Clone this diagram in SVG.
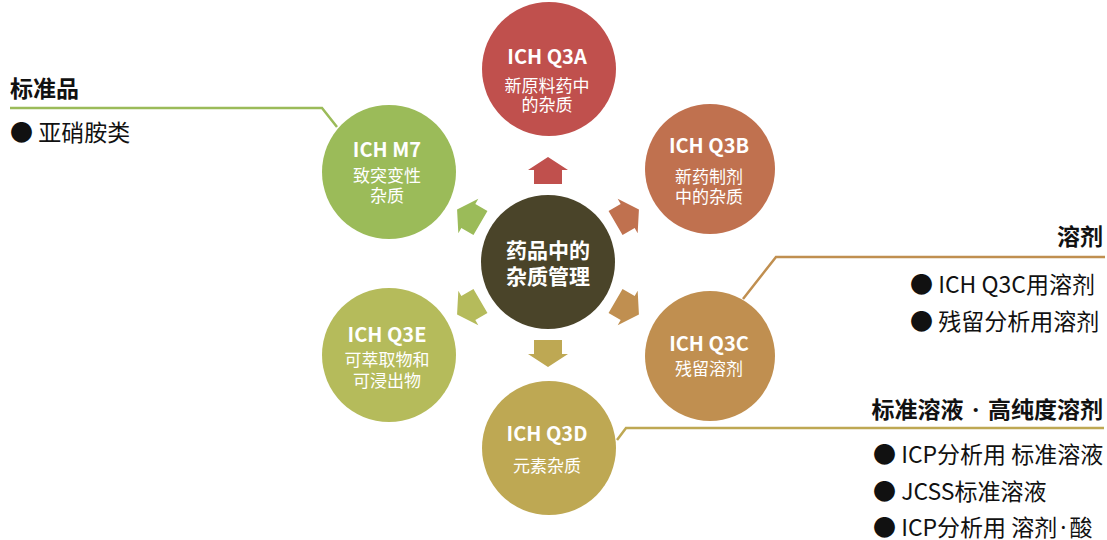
<svg xmlns="http://www.w3.org/2000/svg" width="1107" height="540" viewBox="0 0 1107 540">
<style>
  text { font-family: "Noto Sans CJK SC", "Noto Sans", sans-serif; }
  .t { fill: #ffffff; text-anchor: middle; }
  .h { font-size: 20px; font-weight: 700; }
  .s { font-size: 17px; font-weight: 400; }
  .c { font-size: 21px; font-weight: 700; }
  .title { font-size: 23px; font-weight: 700; fill: #111111; }
  .item { font-size: 23px; font-weight: 400; fill: #111111; }
  .dot { font-family: "Noto Sans", "DejaVu Sans", sans-serif; }
  .lead { fill: none; stroke-width: 2.5; stroke-linejoin: miter; }
</style>
<defs>
  <path id="arr" d="M0,-105 L20,-92 L14,-92 L14,-78 L-14,-78 L-14,-92 L-20,-92 Z"/>
</defs>
<rect width="1107" height="540" fill="#ffffff"/>

<g id="connectors">
  <use href="#arr" transform="translate(548,262) rotate(0)" fill="#c0504d"/>
  <use href="#arr" transform="translate(548,262) rotate(60)" fill="#c0714f"/>
  <use href="#arr" transform="translate(548,262) rotate(120)" fill="#c08f50"/>
  <use href="#arr" transform="translate(548,262) rotate(180)" fill="#bea853"/>
  <use href="#arr" transform="translate(548,262) rotate(240)" fill="#b5bb5b"/>
  <use href="#arr" transform="translate(548,262) rotate(300)" fill="#9bbb59"/>
  <polyline class="lead" stroke="#9bbb59" points="10,108 322,108 337,127"/>
  <polyline class="lead" stroke="#c08f50" points="743,299 776,257 1105,257"/>
  <polyline class="lead" stroke="#bea853" points="617,440 626,428 1104,428"/>
</g>

<g id="center">
  <circle cx="548" cy="262" r="67" fill="#4a4429"/>
  <text class="t c" x="548" y="258">药品中的</text>
  <text class="t c" x="548" y="284">杂质管理</text>
</g>

<g id="q3a">
  <circle cx="549" cy="69" r="67" fill="#c0504d"/>
  <text class="t h" x="547" y="64">ICH Q3A</text>
  <text class="t s" x="547" y="92">新原料药中</text>
  <text class="t s" x="547" y="111">的杂质</text>
</g>

<g id="q3b">
  <circle cx="710" cy="169" r="65" fill="#c0714f"/>
  <text class="t h" x="709" y="153">ICH Q3B</text>
  <text class="t s" x="709" y="183">新药制剂</text>
  <text class="t s" x="709" y="203">中的杂质</text>
</g>

<g id="q3c">
  <circle cx="710" cy="356" r="65" fill="#c08f50"/>
  <text class="t h" x="709" y="351">ICH Q3C</text>
  <text class="t s" x="709" y="375">残留溶剂</text>
</g>

<g id="q3d">
  <circle cx="549" cy="448" r="67" fill="#bea853"/>
  <text class="t h" x="547" y="441">ICH Q3D</text>
  <text class="t s" x="547" y="472">元素杂质</text>
</g>

<g id="q3e">
  <circle cx="389" cy="355" r="67" fill="#b5bb5b"/>
  <text class="t h" x="387" y="342">ICH Q3E</text>
  <text class="t s" x="387" y="366">可萃取物和</text>
  <text class="t s" x="387" y="387">可浸出物</text>
</g>

<g id="m7">
  <circle cx="389" cy="172" r="67" fill="#9bbb59"/>
  <text class="t h" x="387" y="157">ICH M7</text>
  <text class="t s" x="387" y="182">致突变性</text>
  <text class="t s" x="387" y="202">杂质</text>
</g>

<g id="label-standard">
  <text class="title" x="10" y="97">标准品</text>
  <text class="item" x="10" y="141">● 亚硝胺类</text>
</g>

<g id="label-solvent">
  <text class="title" x="1103" y="245" text-anchor="end">溶剂</text>
  <text class="item" x="910" y="293">● ICH Q3C用溶剂</text>
  <text class="item" x="910" y="330">● 残留分析用溶剂</text>
</g>

<g id="label-solution">
  <text class="title" x="1103" y="418" text-anchor="end">标准溶液<tspan class="dot" dx="3"> · </tspan><tspan dx="3">高纯度溶剂</tspan></text>
  <text class="item" x="873" y="463">● ICP分析用 标准溶液</text>
  <text class="item" x="873" y="500">● JCSS标准溶液</text>
  <text class="item" x="873" y="536">● ICP分析用 溶剂<tspan class="dot" dx="3">·</tspan><tspan dx="3">酸</tspan></text>
</g>
</svg>
